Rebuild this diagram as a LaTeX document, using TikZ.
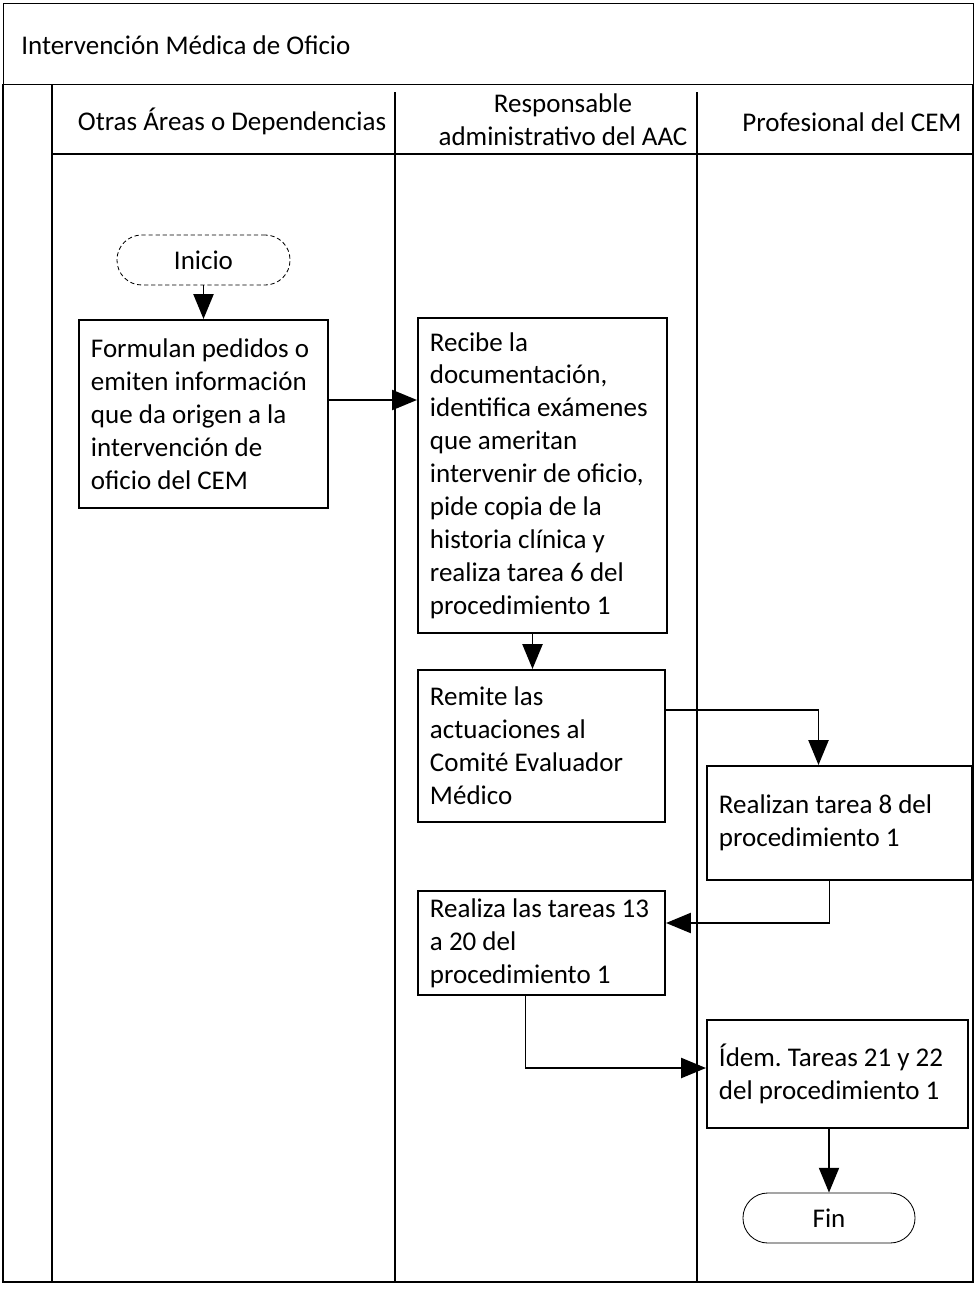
\documentclass[tikz,border=0pt]{standalone}
\usepackage{fontspec}
\setmainfont{Carlito}
\frenchspacing
\usetikzlibrary{arrows.meta, positioning, calc}

\begin{document}
\begin{tikzpicture}[
        x=0.025cm, y=-0.025cm,
        font=\fontsize{19.2}{23.4}\selectfont,
        lane line/.style={line width=1.5pt},
        frame line/.style={line width=0.6pt},
        lane title/.style={inner sep=0pt, align=center},
        task/.style={draw, line width=1.4pt, inner xsep=0.3cm, inner ysep=0.2cm,
            align=flush left, text width=5.625cm},
        terminal/.style={draw, line width=0.6pt, rounded corners=0.62cm,
            minimum width=4.3cm, minimum height=1.25cm, inner sep=0pt},
        flow/.style={-{Triangle[length=0.62cm, width=0.5cm]}, line width=1.4pt},
    ]
        \useasboundingbox (0,0) rectangle (976,1289);

        % Frame and swimlanes
        \draw[frame line] (3,84) -- (3,3) -- (973,3) -- (973,84) -- cycle;
        \draw[lane line] (3,84) -- (3,1282) -- (973,1282) -- (973,84);
        \draw[lane line] (52,84) -- (52,1282);
        \draw[lane line] (52,154) -- (973,154);
        \foreach \x in {395,697}
            \draw[lane line] (\x,92) -- (\x,1282);

        % Titles
        \node[lane title, anchor=west] (title) at (21,45) {Intervención Médica de Oficio};
        \node[lane title] (otras) at (232,121) {Otras Áreas o Dependencias};
        \node[lane title] (resp) at (563,120) {Responsable\\administrativo del AAC};
        \node[lane title] (prof) at (852,122) {Profesional del CEM};

        % Start and end
        \node[terminal, densely dashed, minimum width=4.325cm] (ini) at (203.5,260) {Inicio};
        \node[terminal] (fin) at (829,1218) {Fin};

        % Tasks
        \node[task, minimum height=4.7cm] (b1) at (203.5,414)
            {Formulan pedidos o\\emiten información\\que da origen a la\\intervención de\\oficio del CEM};
        \node[task, minimum height=7.875cm] (b2) at (542.5,475.5)
            {Recibe la\\documentación,\\identifica exámenes\\que ameritan\\intervenir de oficio,\\pide copia de la\\historia clínica y\\realiza tarea 6 del\\procedimiento 1};
        \node[task, text width=5.575cm, minimum height=3.8cm] (b3) at (541.5,746)
            {Remite las\\actuaciones al\\Comité Evaluador\\Médico};
        \node[task, text width=6.025cm, minimum height=2.85cm] (b4) at (839.5,823)
            {Realizan tarea 8 del\\procedimiento 1\par\vspace{20pt}};
        \node[task, text width=5.575cm, minimum height=2.5cm] (b5) at (541.5,943)
            {Realiza las tareas 13\\a 20 del\\procedimiento 1};
        \node[task, text width=5.925cm, minimum height=2.7cm] (b6) at (837.5,1074)
            {Ídem. Tareas 21 y 22\\del procedimiento 1\par\vspace{20pt}};

        % Flows
        \draw[flow] (ini) -- (b1);
        \draw[flow] ([yshift=0.35cm]b1.east) -- ([yshift=0.35cm]b1.east -| b2.west);
        \draw[flow] ([xshift=-0.25cm]b2.south) -- ([xshift=-0.25cm]b2.south |- b3.north);
        \draw[flow] ([yshift=0.9cm]b3.east) -| ([xshift=-0.525cm]b4.north);
        \draw[flow] ([xshift=-0.25cm]b4.south) |- ([yshift=0.5cm]b5.east);
        \draw[flow] ([xshift=-0.4cm]b5.south) |- ([yshift=0.15cm]b6.west);
        \draw[flow] (fin.north |- b6.south) -- (fin);
    \end{tikzpicture}
\end{document}
